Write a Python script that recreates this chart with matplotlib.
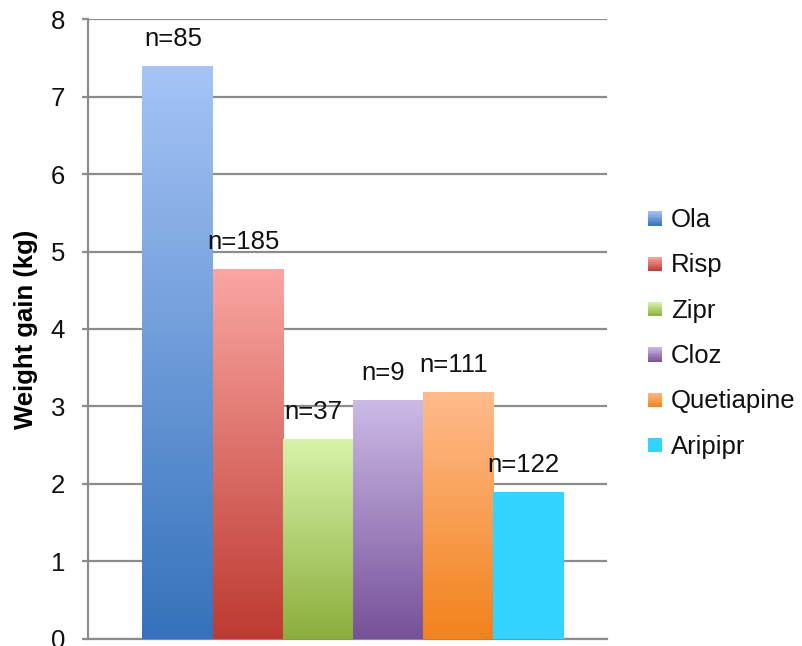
import numpy as np
import matplotlib
matplotlib.use("Agg")
import matplotlib.pyplot as plt
from matplotlib.patches import Rectangle
from matplotlib.legend_handler import HandlerBase
from matplotlib.colors import LinearSegmentedColormap, to_rgb

drugs = ["Ola", "Risp", "Zipr", "Cloz", "Quetiapine", "Aripipr"]
weight_gain = [7.4, 4.77, 2.58, 3.08, 3.19, 1.89]
n_labels = ["n=85", "n=185", "n=37", "n=9", "n=111", "n=122"]
yticks = [0, 1, 2, 3, 4, 5, 6, 7, 8]

# (top colour, bottom colour) for each bar's vertical gradient
gradients = [
    ("#a6c4f6", "#3572bb"),
    ("#faa6a2", "#bd3a31"),
    ("#d8f3aa", "#8aae3c"),
    ("#cbbae6", "#775199"),
    ("#ffbb8c", "#f2821c"),
    ("#33d4ff", "#33d4ff"),
]

plt.rcParams["font.family"] = ["Liberation Sans", "DejaVu Sans"]

fig = plt.figure(figsize=(8.02, 6.46), dpi=100)
ax = fig.add_axes([0.1097, 0.0116, 0.6471, 0.9585])

width = 0.135
x0 = 0.5 - width * (len(drugs) - 1) / 2 + 0.01
xs = [x0 + i * width for i in range(len(drugs))]

ax.set_xlim(0, 1)
ax.set_ylim(0, 8)

bars = ax.bar(xs, weight_gain, width=width, facecolor="none", edgecolor="none", zorder=3)

grad = np.linspace(0, 1, 256).reshape(-1, 1)
for bar, (top, bottom) in zip(bars, gradients):
    cmap = LinearSegmentedColormap.from_list("g", [bottom, top])
    x, w, h = bar.get_x(), bar.get_width(), bar.get_height()
    im = ax.imshow(grad, cmap=cmap, origin="lower", aspect="auto",
                   extent=[x, x + w, 0, h], zorder=3, interpolation="bicubic")
    im.set_clip_path(bar)

for bar, lab in zip(bars, n_labels):
    ax.annotate(lab, (bar.get_x() + bar.get_width() / 2, bar.get_height()),
                xytext=(-3, 19.5), textcoords="offset points",
                ha="center", va="center", fontsize=18.5, color="#111111", zorder=4)

ax.set_yticks(yticks)
ax.set_xticks([])
ax.yaxis.grid(True, color="#8c8c8c", linewidth=1.6, zorder=0)
ax.set_axisbelow(True)
for s in ["top", "right"]:
    ax.spines[s].set_visible(False)
for s in ["left", "bottom"]:
    ax.spines[s].set_color("#8c8c8c")
    ax.spines[s].set_linewidth(1.6)
ax.tick_params(axis="y", length=4.5, width=1.6, color="#8c8c8c",
               labelsize=18.5, pad=12, labelcolor="#111111")
ax.set_ylabel("Weight gain (kg)", fontsize=18.5, fontweight="bold", labelpad=9)


class GradientSquare(HandlerBase):
    def create_artists(self, legend, orig_handle, xdescent, ydescent,
                       width, height, fontsize, trans):
        top, bottom = orig_handle
        t, b = np.array(to_rgb(top)), np.array(to_rgb(bottom))
        size = min(width, height)
        x = xdescent + (width - size) / 2
        n = 8
        arts = []
        for k in range(n):
            f = (k + 0.5) / n
            c = b + (t - b) * f
            arts.append(Rectangle((x, -ydescent + size * k / n), size, size / n,
                                  facecolor=c, edgecolor="none", transform=trans))
        return arts


handles = [tuple(g) for g in gradients]
leg = fig.legend(handles, drugs, handler_map={tuple: GradientSquare()},
                 loc="upper left", bbox_to_anchor=(0.7825, 0.71),
                 frameon=False, fontsize=18.5, handlelength=0.55, handleheight=0.55,
                 handletextpad=0.35, labelspacing=0.83, borderpad=0.3)
for t in leg.get_texts():
    t.set_color("#111111")

fig.savefig("out.png", dpi=100)
